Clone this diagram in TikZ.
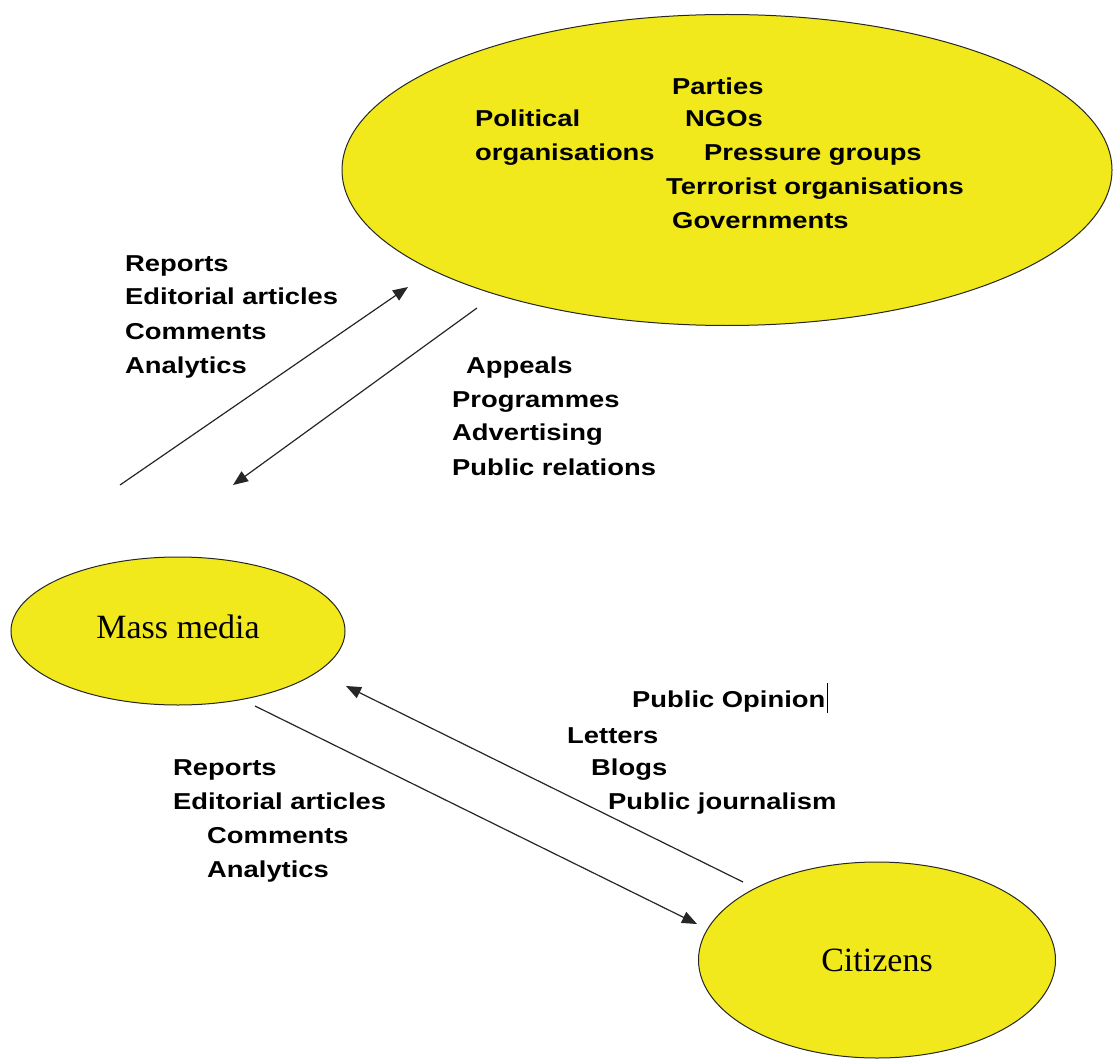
\documentclass[tikz,border=0pt]{standalone}
\usepackage{fontspec}
\usetikzlibrary{arrows.meta,shapes.geometric}
\newfontfamily\lblfont[FakeStretch=1.19]{Liberation Sans}
\newfontfamily\blobfont{Liberation Serif}
\definecolor{blobyellow}{RGB}{241,233,28}
\begin{document}
\begin{tikzpicture}[x=1pt,y=-1pt,
  blob/.style={ellipse, draw=black!85, line width=1pt, fill=blobyellow,
    inner sep=0pt, font=\blobfont\fontsize{34}{40}\selectfont},
  lbl/.style={anchor=base west, inner sep=0pt,
    font=\lblfont\bfseries\fontsize{23}{33}\selectfont},
  flow/.style={line width=1.2pt, black!85,
    -{Triangle[length=15pt,width=12pt]}}]
\useasboundingbox (0,0) rectangle (1113,1059);

% the three actors
\node[blob, minimum width=770pt, minimum height=311pt] (pol) at (727,170) {};
\node[blob, minimum width=334pt, minimum height=148pt, text depth=8pt] (media) at (178,631) {Mass media};
\node[blob, minimum width=357pt, minimum height=196pt] (cit) at (877,960) {Citizens};

% contents of the political organisations ellipse
\node[lbl] (parties) at (672,95) {Parties};
\node[lbl] (polit) at (475,127) {Political};
\node[lbl] (ngos) at (685,127) {NGOs};
\node[lbl] (orgs) at (475,161) {organisations};
\node[lbl] (press) at (704,161) {Pressure groups};
\node[lbl] (terr) at (666,195) {Terrorist organisations};
\node[lbl] (gov) at (672,229) {Governments};

% media -> political organisations
\node[lbl] (r1) at (125,272) {Reports};
\node[lbl] (e1) at (125,305) {Editorial articles};
\node[lbl] (c1) at (125,339) {Comments};
\node[lbl] (a1) at (125,373) {Analytics};

% political organisations -> media
\node[lbl] (app) at (466,373) {Appeals};
\node[lbl] (prog) at (452,407) {Programmes};
\node[lbl] (adv) at (452,440) {Advertising};
\node[lbl] (pr) at (452,475) {Public relations};

% citizens -> media
\node[lbl] (po) at (632,707) {Public Opinion};
\node[lbl] (let) at (567,743) {Letters};
\node[lbl] (blog) at (591,775) {Blogs};
\node[lbl] (pj) at (608,809) {Public journalism};
\draw[line width=0.9pt] (po.base east) ++(2,6) coordinate (caretlow) -- ++(0,-30) coordinate (carethigh);

% media -> citizens
\node[lbl] (r2) at (173,775) {Reports};
\node[lbl] (e2) at (173,809) {Editorial articles};
\node[lbl] (c2) at (207,843) {Comments};
\node[lbl] (a2) at (207,877) {Analytics};

% flow arrows
\coordinate (m2pS) at (120,485);
\coordinate (m2pE) at (408,287);
\coordinate (p2mS) at (477,308);
\coordinate (p2mE) at (233,485);
\coordinate (c2mS) at (743,882);
\coordinate (c2mE) at (346,686);
\coordinate (m2cS) at (255,706);
\coordinate (m2cE) at (697,924);
\draw[flow] (m2pS) -- (m2pE);
\draw[flow] (p2mS) -- (p2mE);
\draw[flow] (c2mS) -- (c2mE);
\draw[flow] (m2cS) -- (m2cE);
\end{tikzpicture}
\end{document}
